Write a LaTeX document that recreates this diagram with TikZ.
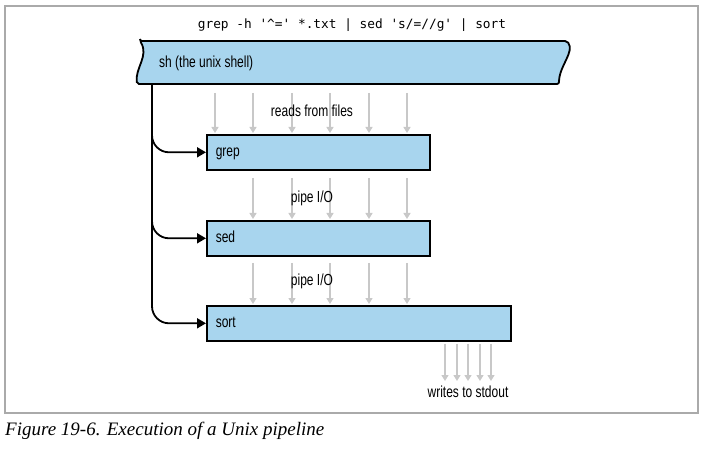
\documentclass[tikz,border=0pt]{standalone}
\usepackage{fontspec}
\setmainfont{Liberation Serif}
\newfontfamily\labfont[FakeStretch=0.75]{Liberation Sans}
\newfontfamily\cmdfont[Ligatures=TeXOff]{DejaVu Sans Mono}
\usetikzlibrary{arrows.meta}
\definecolor{boxblue}{RGB}{168,213,238}
\definecolor{arrgray}{RGB}{200,200,200}
\definecolor{framegray}{RGB}{170,170,170}
\begin{document}
\begin{tikzpicture}[x=1pt,y=-1pt,
  lab/.style={font=\labfont\fontsize{16}{18}\selectfont, inner sep=0pt},
  box/.style={lab, draw=black, line width=1.6pt, fill=boxblue, anchor=north west,
    minimum height=35pt, inner xsep=9pt, inner ysep=0pt, align=left,
    text height=11pt, text depth=3pt},
  feed/.style={draw=arrgray, line width=1.3pt, -{Triangle[length=6pt,width=7pt]}, shorten >=1pt},
  spawn/.style={draw=black, line width=1.8pt, rounded corners=17pt, -{Triangle[length=9pt,width=10pt]}}]
\useasboundingbox (0,0) rectangle (707,449);
% frame
\draw[framegray, line width=1.2pt] (5,6) rectangle (698,413);
% command line
\node[font=\cmdfont\fontsize{12.8}{14}\selectfont, anchor=base, inner sep=0pt] (cmd) at (352,29)
  {grep -h '\textasciicircum=' *.txt | sed 's/=//g' | sort};
% shell shape
\draw[fill=boxblue, line width=1.8pt, rounded corners=2pt]
  (140,41) -- (567,41) .. controls (575,52) and (559,66) .. (559,84)
  -- (137,84) .. controls (135,68) and (149,56) .. (140,41) -- cycle;
\node[lab, anchor=west] (sh) at (159,63) {sh (the unix shell)};
\coordinate (v) at (152,84);
% process boxes
\node[box, text width=205pt] (grep) at (206,134) {grep};
\node[box, text width=205pt] (sed) at (206,220) {sed};
\node[box, text width=286pt] (sort) at (206,305) {sort};
% spawn connectors
\draw[spawn] (v) |- (sort.west);
\draw[spawn] (v) |- (sed.west);
\draw[spawn] (v) |- (grep.west);
% data flow arrows
\foreach \x in {215,253,292,330,369,407}
  \draw[feed] (\x,93) -- (\x,0 |- grep.north);
\foreach \x in {253,292,330,369,407}
  \draw[feed] (\x,178) -- (\x,0 |- sed.north);
\foreach \x in {253,292,330,369,407}
  \draw[feed] (\x,263) -- (\x,0 |- sort.north);
\coordinate (out) at (468,382);
\foreach \x in {445,457,468,480,491}
  \draw[feed] (\x,0 |- sort.south) ++(0,2) -- (\x,0 |- out);
% labels
\node[lab, anchor=base] (l1) at (312,117) {reads from files};
\node[lab, anchor=base] (l2) at (312,203) {pipe I/O};
\node[lab, anchor=base] (l3) at (312,285) {pipe I/O};
\node[lab, anchor=base] (l4) at (468,397) {writes to stdout};
% caption
\node[anchor=base west, inner sep=0pt, font=\itshape\fontsize{19}{22}\selectfont] (cap) at (5,435)
  {Figure 19-6. Execution of a Unix pipeline};
\end{tikzpicture}
\end{document}
